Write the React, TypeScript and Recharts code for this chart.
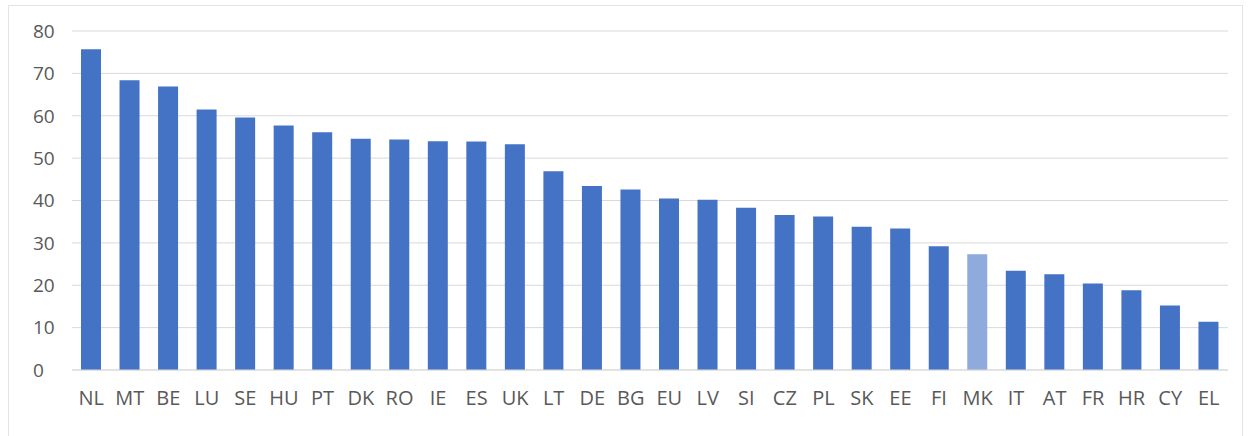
import { BarChart, Bar, XAxis, YAxis, CartesianGrid, Cell } from "recharts";

const countries = [
  "NL", "MT", "BE", "LU", "SE", "HU", "PT", "DK", "RO", "IE",
  "ES", "UK", "LT", "DE", "BG", "EU", "LV", "SI", "CZ", "PL",
  "SK", "EE", "FI", "MK", "IT", "AT", "FR", "HR", "CY", "EL",
];

const values = [
  75.7, 68.4, 66.9, 61.5, 59.6, 57.7, 56.1, 54.6, 54.4, 54.0,
  53.9, 53.3, 46.9, 43.4, 42.6, 40.5, 40.2, 38.3, 36.6, 36.2,
  33.8, 33.4, 29.2, 27.3, 23.4, 22.6, 20.4, 18.8, 15.2, 11.4,
];

const yTicks = [0, 10, 20, 30, 40, 50, 60, 70, 80];

const highlighted = ["MK"];

const data = countries.map((code, i) => ({ code, value: values[i] }));

const BAR_COLOR = "#4472C4";
const HIGHLIGHT_COLOR = "#8FAADC";
const TEXT_COLOR = "#595959";
const GRID_COLOR = "#d9d9d9";
const FONT = "'Open Sans', 'Noto Sans', sans-serif";

function YTick(props: any) {
  const { x, y, payload } = props;
  return (
    <text
      x={x - 39}
      y={y}
      dy="0.36em"
      textAnchor="start"
      fontSize={19}
      fill={TEXT_COLOR}
      fontFamily={FONT}
    >
      {payload.value}
    </text>
  );
}

export default function App() {
  return (
    <div
      style={{
        position: "absolute",
        left: 0,
        top: 0,
        width: 1252,
        height: 436,
        background: "#fff",
        overflow: "hidden",
      }}
    >
      <div
        style={{
          position: "absolute",
          left: 8,
          top: 5,
          width: 1235,
          height: 440,
          border: "1px solid #e3e3e3",
          boxSizing: "border-box",
        }}
      />
      <div style={{ position: "absolute", left: 0, top: 0 }}>
        <BarChart
          width={1252}
          height={436}
          data={data}
          margin={{ top: 31, right: 24, left: 0, bottom: 0 }}
        >
          <CartesianGrid vertical={false} stroke={GRID_COLOR} />
          <XAxis
            dataKey="code"
            interval={0}
            height={66}
            tickLine={false}
            tickSize={0}
            tickMargin={21}
            axisLine={{ stroke: GRID_COLOR }}
            tick={{ fontSize: 20, fill: TEXT_COLOR, fontFamily: FONT }}
          />
          <YAxis
            width={72}
            domain={[0, 80]}
            ticks={yTicks}
            interval={0}
            axisLine={false}
            tickLine={false}
            tickSize={0}
            tickMargin={0}
            tick={<YTick />}
          />
          <Bar dataKey="value" barSize={20} isAnimationActive={false}>
            {data.map((d, i) => (
              <Cell
                key={`cell-${i}`}
                fill={highlighted.includes(d.code) ? HIGHLIGHT_COLOR : BAR_COLOR}
              />
            ))}
          </Bar>
        </BarChart>
      </div>
    </div>
  );
}
